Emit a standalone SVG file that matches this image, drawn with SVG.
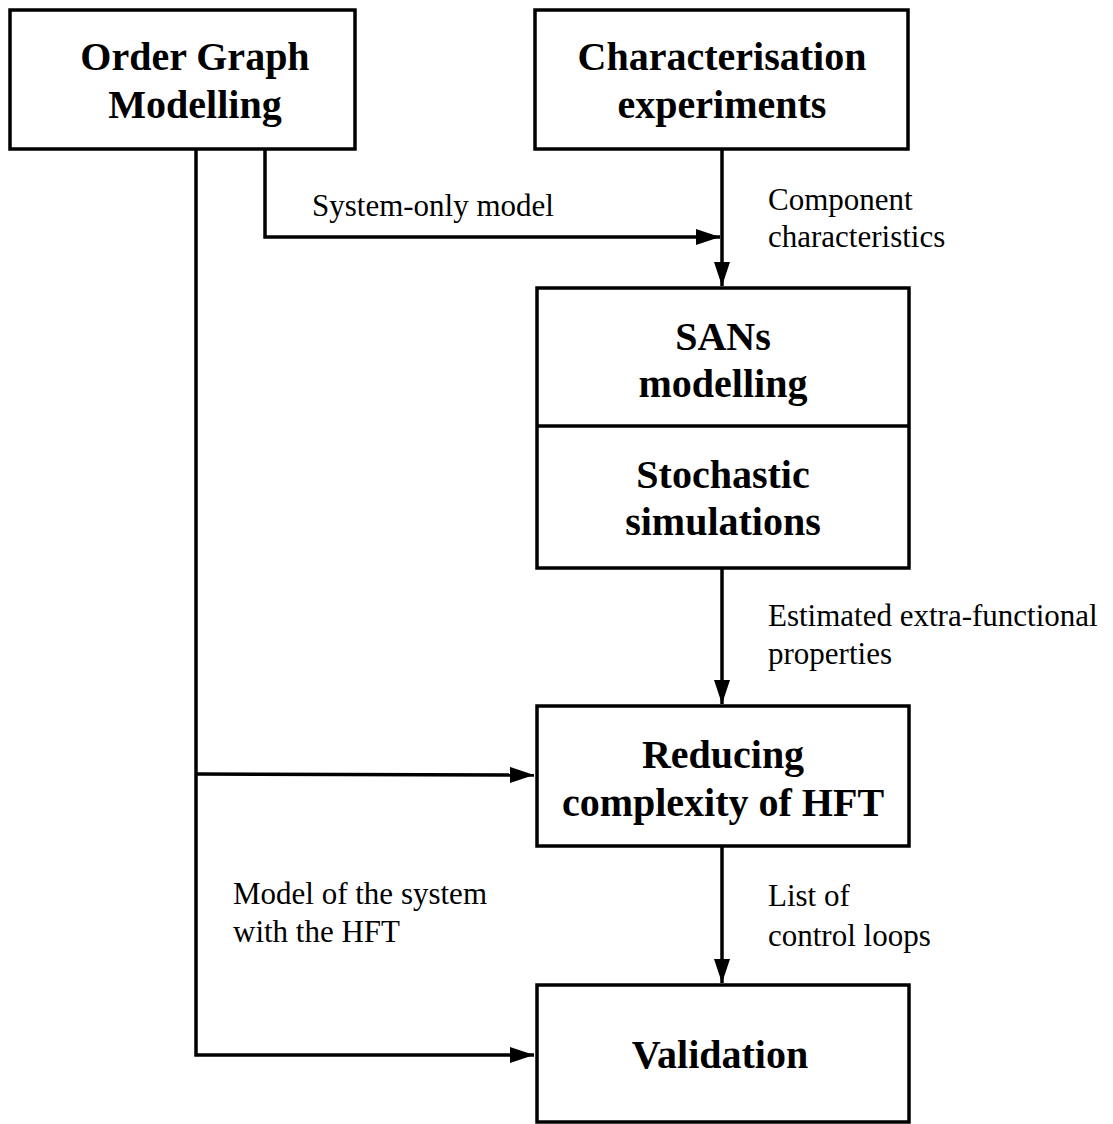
<svg xmlns="http://www.w3.org/2000/svg" width="1113" height="1124" viewBox="0 0 1113 1124">
  <style>
    .box { fill: #fff; stroke: #000; stroke-width: 3.5; }
    .title { font-family: "Liberation Serif", "Times New Roman", serif; font-weight: bold; font-size: 40px; text-anchor: middle; fill: #000; }
    .label { font-family: "Liberation Serif", "Times New Roman", serif; font-size: 31px; fill: #000; }
    .wire { fill: none; stroke: #000; stroke-width: 3.5; }
  </style>
  <defs>
    <marker id="arrow" markerUnits="userSpaceOnUse" markerWidth="26" markerHeight="18" refX="24" refY="8" orient="auto">
      <path d="M0,0 L24,8 L0,16 Z" fill="#000"/>
    </marker>
  </defs>
  <rect width="1113" height="1124" fill="#fff"/>

  <g id="connectors">
    <!-- system-only model feed -->
    <polyline class="wire" points="265,149 265,237 720,237" marker-end="url(#arrow)"/>
    <!-- characterisation to SANs -->
    <line class="wire" x1="722" y1="149" x2="722" y2="286" marker-end="url(#arrow)"/>
    <!-- SANs to reducing -->
    <line class="wire" x1="722" y1="568" x2="722" y2="704" marker-end="url(#arrow)"/>
    <!-- reducing to validation -->
    <line class="wire" x1="722" y1="846" x2="722" y2="983" marker-end="url(#arrow)"/>
    <!-- order graph trunk -->
    <polyline class="wire" points="196,149 196,1055 534,1055" marker-end="url(#arrow)"/>
    <line class="wire" x1="196" y1="774" x2="534" y2="775" marker-end="url(#arrow)"/>
  </g>

  <g id="order-graph">
    <rect class="box" x="10" y="10" width="345" height="139"/>
    <text class="title" x="195" y="70">Order Graph</text>
    <text class="title" x="195" y="118">Modelling</text>
  </g>

  <g id="characterisation">
    <rect class="box" x="535" y="10" width="373" height="139"/>
    <text class="title" x="722" y="70">Characterisation</text>
    <text class="title" x="722" y="118">experiments</text>
  </g>

  <g id="sans">
    <rect class="box" x="537" y="288" width="372" height="280"/>
    <line class="wire" x1="537" y1="426" x2="909" y2="426"/>
    <text class="title" x="723" y="350">SANs</text>
    <text class="title" x="723" y="397">modelling</text>
    <text class="title" x="723" y="488">Stochastic</text>
    <text class="title" x="723" y="535">simulations</text>
  </g>

  <g id="reducing">
    <rect class="box" x="537" y="706" width="372" height="140"/>
    <text class="title" x="723" y="768">Reducing</text>
    <text class="title" x="723" y="816">complexity of HFT</text>
  </g>

  <g id="validation">
    <rect class="box" x="537" y="985" width="372" height="137"/>
    <text class="title" x="720" y="1068">Validation</text>
  </g>

  <g id="labels">
    <text class="label" x="312" y="216">System-only model</text>
    <text class="label" x="768" y="210">Component</text>
    <text class="label" x="768" y="247">characteristics</text>
    <text class="label" x="768" y="626">Estimated extra-functional</text>
    <text class="label" x="768" y="664">properties</text>
    <text class="label" x="233" y="904">Model of the system</text>
    <text class="label" x="233" y="942">with the HFT</text>
    <text class="label" x="768" y="906">List of</text>
    <text class="label" x="768" y="946">control loops</text>
  </g>
</svg>
